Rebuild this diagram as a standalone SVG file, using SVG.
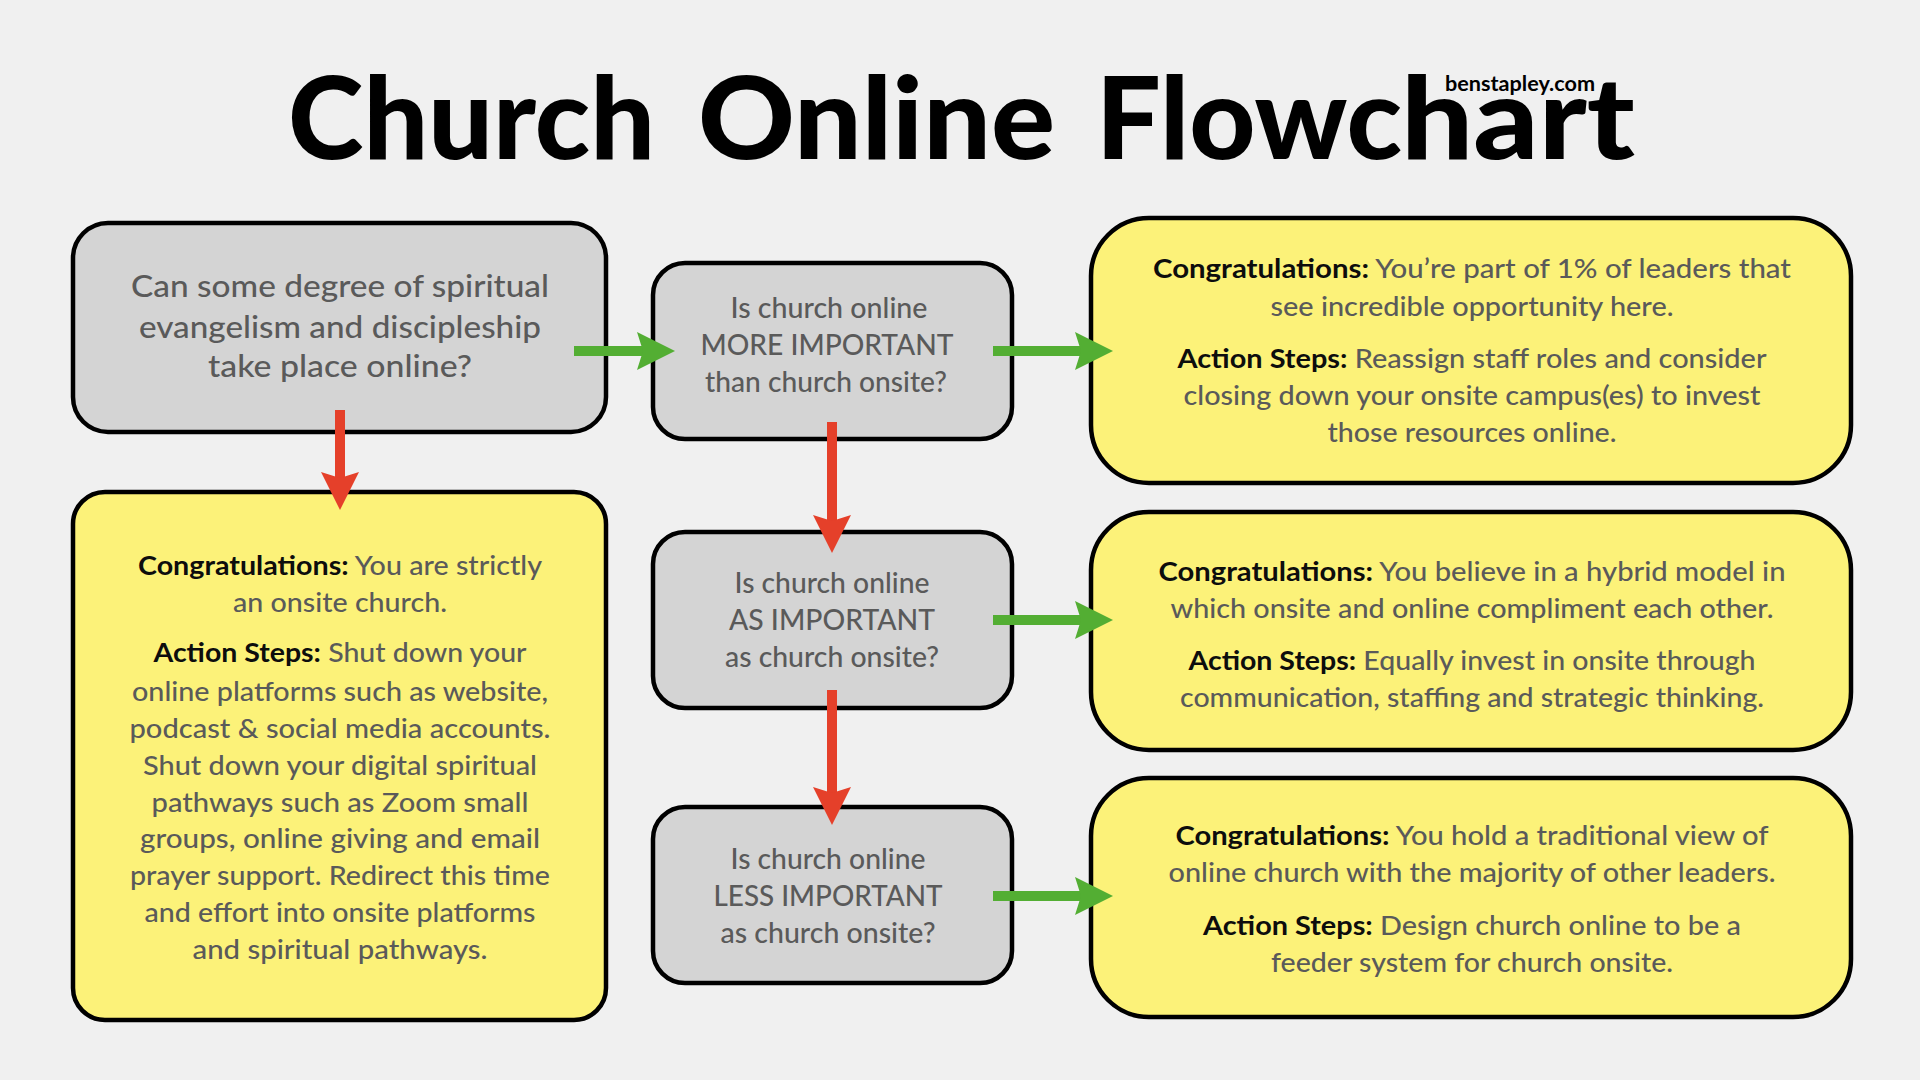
<svg xmlns="http://www.w3.org/2000/svg" width="1920" height="1080" viewBox="0 0 1920 1080">
<style>
.q{fill:#d4d4d4;stroke:#000;stroke-width:4.5}
.y{fill:#fcf279;stroke:#000;stroke-width:4.5}
.t{font-family:Lato,"Liberation Sans",sans-serif;fill:#5a5a5a;text-anchor:middle;font-weight:500}
.b{fill:#0d0d0d;font-weight:700}
.qt{font-size:31px}
.qs{font-size:29px}
.yt{font-size:27px}
.h{font-family:Lato,"Liberation Sans",sans-serif;font-weight:900;font-size:114px;fill:#000}
.g{stroke:#53ae33;stroke-width:10;fill:none}
.r{stroke:#e5402a;stroke-width:10;fill:none}
</style>
<defs>
<marker id="hg" viewBox="0 0 38 38" refX="8" refY="19" markerWidth="38" markerHeight="38" markerUnits="userSpaceOnUse" orient="auto"><path d="M0,0 L38,19 L0,38 L6,19 z" fill="#53ae33"/></marker>
<marker id="hr" viewBox="0 0 38 38" refX="8" refY="19" markerWidth="38" markerHeight="38" markerUnits="userSpaceOnUse" orient="auto"><path d="M0,0 L38,19 L0,38 L6,19 z" fill="#e5402a"/></marker>
</defs>
<rect width="1920" height="1080" fill="#f0f0f0"/>
<g id="title">
<text class="h" x="288" y="159" textLength="367" lengthAdjust="spacingAndGlyphs">Church</text>
<text class="h" x="698" y="159" textLength="357" lengthAdjust="spacingAndGlyphs">Online</text>
<text class="h" x="1096" y="159"><tspan textLength="306" lengthAdjust="spacingAndGlyphs">Flowc</tspan><tspan x="1401" textLength="234" lengthAdjust="spacingAndGlyphs">hart</tspan></text>
<text x="1520" y="91" font-family="Lato,'Liberation Sans',sans-serif" font-weight="700" font-size="20" fill="#000" text-anchor="middle" textLength="150" lengthAdjust="spacingAndGlyphs">benstapley.com</text>
</g>

<g id="q1">
<rect class="q" x="73" y="223" width="533" height="209" rx="35"/>
<text class="t qt" x="340" y="297" textLength="418" lengthAdjust="spacingAndGlyphs">Can some degree of spiritual</text>
<text class="t qt" x="340" y="338" textLength="402" lengthAdjust="spacingAndGlyphs">evangelism and discipleship</text>
<text class="t qt" x="340" y="377" textLength="264" lengthAdjust="spacingAndGlyphs">take place online?</text>
</g>
<g id="q2">
<rect class="q" x="653" y="263" width="359" height="176" rx="32"/>
<text class="t qs" x="829" y="318" textLength="197" lengthAdjust="spacingAndGlyphs">Is church online</text>
<text class="t qs" x="827" y="355" textLength="253" lengthAdjust="spacingAndGlyphs">MORE IMPORTANT</text>
<text class="t qs" x="826" y="392" textLength="242" lengthAdjust="spacingAndGlyphs">than church onsite?</text>
</g>
<g id="q3">
<rect class="q" x="653" y="532" width="359" height="176" rx="32"/>
<text class="t qs" x="832" y="593" textLength="195" lengthAdjust="spacingAndGlyphs">Is church online</text>
<text class="t qs" x="832" y="630" textLength="206" lengthAdjust="spacingAndGlyphs">AS IMPORTANT</text>
<text class="t qs" x="832" y="667" textLength="214" lengthAdjust="spacingAndGlyphs">as church onsite?</text>
</g>
<g id="q4">
<rect class="q" x="653" y="807" width="359" height="176" rx="32"/>
<text class="t qs" x="828" y="869" textLength="195" lengthAdjust="spacingAndGlyphs">Is church online</text>
<text class="t qs" x="828" y="906" textLength="229" lengthAdjust="spacingAndGlyphs">LESS IMPORTANT</text>
<text class="t qs" x="828" y="943" textLength="215" lengthAdjust="spacingAndGlyphs">as church onsite?</text>
</g>
<g id="onsite">
<rect class="y" x="73" y="492" width="533" height="528" rx="32"/>
<text class="t yt" x="340" y="575" textLength="404" lengthAdjust="spacingAndGlyphs"><tspan class="b">Congratulations:</tspan> You are strictly</text>
<text class="t yt" x="340" y="612" textLength="214" lengthAdjust="spacingAndGlyphs">an onsite church.</text>
<text class="t yt" x="340" y="662" textLength="373" lengthAdjust="spacingAndGlyphs"><tspan class="b">Action Steps:</tspan> Shut down your</text>
<text class="t yt" x="340" y="701" textLength="416" lengthAdjust="spacingAndGlyphs">online platforms such as website,</text>
<text class="t yt" x="340" y="738" textLength="421" lengthAdjust="spacingAndGlyphs">podcast &amp; social media accounts.</text>
<text class="t yt" x="340" y="775" textLength="394" lengthAdjust="spacingAndGlyphs">Shut down your digital spiritual</text>
<text class="t yt" x="340" y="812" textLength="377" lengthAdjust="spacingAndGlyphs">pathways such as Zoom small</text>
<text class="t yt" x="340" y="848" textLength="400" lengthAdjust="spacingAndGlyphs">groups, online giving and email</text>
<text class="t yt" x="340" y="885" textLength="420" lengthAdjust="spacingAndGlyphs">prayer support. Redirect this time</text>
<text class="t yt" x="340" y="922" textLength="391" lengthAdjust="spacingAndGlyphs">and effort into onsite platforms</text>
<text class="t yt" x="340" y="959" textLength="295" lengthAdjust="spacingAndGlyphs">and spiritual pathways.</text>
</g>
<g id="more">
<rect class="y" x="1091" y="218" width="760" height="265" rx="58"/>
<text class="t yt" x="1472" y="278" textLength="638" lengthAdjust="spacingAndGlyphs"><tspan class="b">Congratulations:</tspan> You’re part of 1% of leaders that</text>
<text class="t yt" x="1472" y="316" textLength="403" lengthAdjust="spacingAndGlyphs">see incredible opportunity here.</text>
<text class="t yt" x="1472" y="368" textLength="589" lengthAdjust="spacingAndGlyphs"><tspan class="b">Action Steps:</tspan> Reassign staff roles and consider</text>
<text class="t yt" x="1472" y="405" textLength="577" lengthAdjust="spacingAndGlyphs">closing down your onsite campus(es) to invest</text>
<text class="t yt" x="1472" y="442" textLength="289" lengthAdjust="spacingAndGlyphs">those resources online.</text>
</g>
<g id="as">
<rect class="y" x="1091" y="512" width="760" height="238" rx="58"/>
<text class="t yt" x="1472" y="581" textLength="627" lengthAdjust="spacingAndGlyphs"><tspan class="b">Congratulations:</tspan> You believe in a hybrid model in</text>
<text class="t yt" x="1472" y="618" textLength="603" lengthAdjust="spacingAndGlyphs">which onsite and online compliment each other.</text>
<text class="t yt" x="1472" y="670" textLength="567" lengthAdjust="spacingAndGlyphs"><tspan class="b">Action Steps:</tspan> Equally invest in onsite through</text>
<text class="t yt" x="1472" y="707" textLength="584" lengthAdjust="spacingAndGlyphs">communication, staffing and strategic thinking.</text>
</g>
<g id="less">
<rect class="y" x="1091" y="778" width="760" height="239" rx="58"/>
<text class="t yt" x="1472" y="845" textLength="593" lengthAdjust="spacingAndGlyphs"><tspan class="b">Congratulations:</tspan> You hold a traditional view of</text>
<text class="t yt" x="1472" y="882" textLength="607" lengthAdjust="spacingAndGlyphs">online church with the majority of other leaders.</text>
<text class="t yt" x="1472" y="935" textLength="538" lengthAdjust="spacingAndGlyphs"><tspan class="b">Action Steps:</tspan> Design church online to be a</text>
<text class="t yt" x="1472" y="972" textLength="402" lengthAdjust="spacingAndGlyphs">feeder system for church onsite.</text>
</g>

<g id="connectors">
<path class="g" d="M574,351 H645" marker-end="url(#hg)"/>
<path class="g" d="M993,351 H1083" marker-end="url(#hg)"/>
<path class="g" d="M993,620 H1083" marker-end="url(#hg)"/>
<path class="g" d="M993,896 H1083" marker-end="url(#hg)"/>
<path class="r" d="M340,410 V480" marker-end="url(#hr)"/>
<path class="r" d="M832,422 V523" marker-end="url(#hr)"/>
<path class="r" d="M832,690 V795" marker-end="url(#hr)"/>
</g>
</svg>
